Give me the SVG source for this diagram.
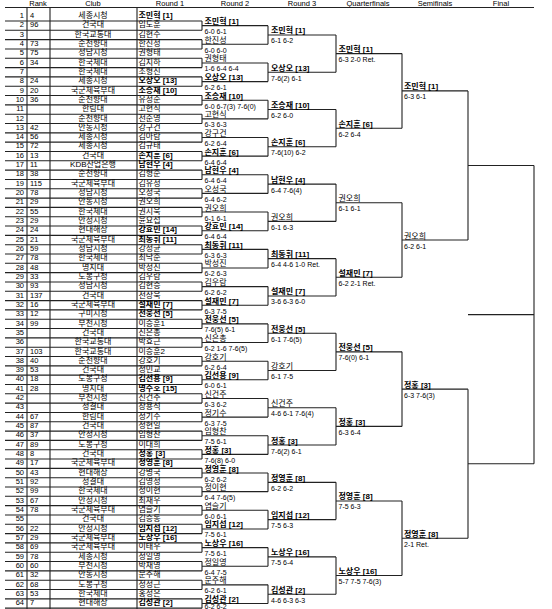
<svg xmlns="http://www.w3.org/2000/svg" width="552" height="609" viewBox="0 0 552 609">
<style>
text{font-family:"Liberation Sans","Noto Sans CJK KR",sans-serif;font-size:8px;fill:#000}
.h{font-size:7.5px;text-anchor:middle}
.n{font-size:7.5px;text-anchor:end}
.k{font-size:7.5px}
.c{text-anchor:middle}
.b{font-weight:bold}
.s{font-size:7px}
.ln{fill:none;stroke:#222;stroke-width:1.1}
</style>
<rect width="552" height="609" fill="#fff"/>
<g id="header">
<text class="h" x="38" y="6">Rank</text>
<text class="h" x="93" y="6">Club</text>
<text class="h" x="170" y="6">Round 1</text>
<text class="h" x="235" y="6">Round 2</text>
<text class="h" x="302" y="6">Round 3</text>
<text class="h" x="368" y="6">Quarterfinals</text>
<text class="h" x="435" y="6">Semifinals</text>
<text class="h" x="501" y="6">Final</text>
</g>
<g id="connectors" class="ln">
<path d="M5 7.5H534M27 7.5V609M50 7.5V609M137 7.5V609"/>
<path d="M5 21h197m-197 9.32h197m-197 9.32h197m-197 9.32h197m-197 9.32h197m-197 9.32h197m-197 9.32h197m-197 9.32h197m-197 9.32h197m-197 9.32h197
m-197 9.32h197m-197 9.32h197m-197 9.32h197m-197 9.32h197m-197 9.32h197m-197 9.32h197m-197 9.32h197m-197 9.32h197m-197 9.32h197
m-197 9.32h197m-197 9.32h197m-197 9.32h197m-197 9.32h197m-197 9.32h197m-197 9.32h197m-197 9.32h197m-197 9.32h197m-197 9.32h197
m-197 9.32h197m-197 9.32h197m-197 9.32h197m-197 9.32h197m-197 9.32h197m-197 9.32h197m-197 9.32h197m-197 9.32h197m-197 9.32h197
m-197 9.32h197m-197 9.32h197m-197 9.32h197m-197 9.32h197m-197 9.32h197m-197 9.32h197m-197 9.32h197m-197 9.32h197m-197 9.32h197
m-197 9.32h197m-197 9.32h197m-197 9.32h197m-197 9.32h197m-197 9.32h197m-197 9.32h197m-197 9.32h197m-197 9.32h197m-197 9.32h197
m-197 9.32h197m-197 9.32h197m-197 9.32h197m-197 9.32h197m-197 9.32h197m-197 9.32h197m-197 9.32h197m-197 9.32h197m-197 9.32h197"/>
<path d="M202 21v9.32m0 9.32v9.32m0 9.32v9.32m0 9.32v9.32m0 9.32v9.32m0 9.32v9.32m0 9.32v9.32m0 9.32v9.32
m0 9.32v9.32m0 9.32v9.32m0 9.32v9.32m0 9.32v9.32m0 9.32v9.32m0 9.32v9.32m0 9.32v9.32m0 9.32v9.32
m0 9.32v9.32m0 9.32v9.32m0 9.32v9.32m0 9.32v9.32m0 9.32v9.32m0 9.32v9.32m0 9.32v9.32m0 9.32v9.32
m0 9.32v9.32m0 9.32v9.32m0 9.32v9.32m0 9.32v9.32m0 9.32v9.32m0 9.32v9.32m0 9.32v9.32m0 9.32v9.32"/>
<path d="M202 25.66h66m-66 18.64h66m-66 18.64h66m-66 18.64h66m-66 18.64h66m-66 18.64h66m-66 18.64h66m-66 18.64h66
m-66 18.64h66m-66 18.64h66m-66 18.64h66m-66 18.64h66m-66 18.64h66m-66 18.64h66m-66 18.64h66m-66 18.64h66
m-66 18.64h66m-66 18.64h66m-66 18.64h66m-66 18.64h66m-66 18.64h66m-66 18.64h66m-66 18.64h66m-66 18.64h66
m-66 18.64h66m-66 18.64h66m-66 18.64h66m-66 18.64h66m-66 18.64h66m-66 18.64h66m-66 18.64h66m-66 18.64h66"/>
<path d="M268 25.66v18.64m0 18.64v18.64m0 18.64v18.64m0 18.64v18.64m0 18.64v18.64m0 18.64v18.64m0 18.64v18.64m0 18.64v18.64
m0 18.64v18.64m0 18.64v18.64m0 18.64v18.64m0 18.64v18.64m0 18.64v18.64m0 18.64v18.64m0 18.64v18.64m0 18.64v18.64"/>
<path d="M268 34.98h68m-68 37.28h68m-68 37.28h68m-68 37.28h68m-68 37.28h68m-68 37.28h68m-68 37.28h68m-68 37.28h68
m-68 37.28h68m-68 37.28h68m-68 37.28h68m-68 37.28h68m-68 37.28h68m-68 37.28h68m-68 37.28h68m-68 37.28h68"/>
<path d="M336 34.98v37.28m0 37.28v37.28m0 37.28v37.28m0 37.28v37.28m0 37.28v37.28m0 37.28v37.28m0 37.28v37.28m0 37.28v37.28"/>
<path d="M336 53.62h66m-66 74.56h66m-66 74.56h66m-66 74.56h66m-66 74.56h66m-66 74.56h66m-66 74.56h66m-66 74.56h66"/>
<path d="M402 53.62v74.56m0 74.56v74.56m0 74.56v74.56m0 74.56v74.56"/>
<path d="M402 90.9h66m-66 149.12h66m-66 149.12h66m-66 149.12h66"/>
<path d="M468 90.9v149.12m0 149.12v149.12"/>
<path d="M468 165.46h66M468 463.7h66M534 165.46V463.7M468 314.58h66"/>
</g>
<g id="round1">
<g id="p1" transform="translate(0,21)"><text class="n" x="24" y="-3">1</text><text class="k" x="30" y="-3">4</text><text class="c" x="93" y="-3">세종시청</text><text class="b" x="138.5" y="-3">조민혁 [1]</text></g>
<g id="p2" transform="translate(0,30.32)"><text class="n" x="24" y="-3">2</text><text class="k" x="30" y="-3">96</text><text class="c" x="93" y="-3">건국대</text><text x="138.5" y="-3">임도훈</text></g>
<g id="p3" transform="translate(0,39.64)"><text class="n" x="24" y="-3">3</text><text class="c" x="93" y="-3">한국교통대</text><text x="138.5" y="-3">김현수</text></g>
<g id="p4" transform="translate(0,48.96)"><text class="n" x="24" y="-3">4</text><text class="k" x="30" y="-3">73</text><text class="c" x="93" y="-3">순천향대</text><text x="138.5" y="-3">한진성</text></g>
<g id="p5" transform="translate(0,58.28)"><text class="n" x="24" y="-3">5</text><text class="k" x="30" y="-3">75</text><text class="c" x="93" y="-3">성남시청</text><text x="138.5" y="-3">권형태</text></g>
<g id="p6" transform="translate(0,67.6)"><text class="n" x="24" y="-3">6</text><text class="k" x="30" y="-3">34</text><text class="c" x="93" y="-3">한국체대</text><text x="138.5" y="-3">김지하</text></g>
<g id="p7" transform="translate(0,76.92)"><text class="n" x="24" y="-3">7</text><text class="c" x="93" y="-3">한국체대</text><text x="138.5" y="-3">조형진</text></g>
<g id="p8" transform="translate(0,86.24)"><text class="n" x="24" y="-3">8</text><text class="k" x="30" y="-3">24</text><text class="c" x="93" y="-3">세종시청</text><text class="b" x="138.5" y="-3">오상오 [13]</text></g>
<g id="p9" transform="translate(0,95.56)"><text class="n" x="24" y="-3">9</text><text class="k" x="30" y="-3">20</text><text class="c" x="93" y="-3">국군체육부대</text><text class="b" x="138.5" y="-3">조승재 [10]</text></g>
<g id="p10" transform="translate(0,104.88)"><text class="n" x="24" y="-3">10</text><text class="k" x="30" y="-3">36</text><text class="c" x="93" y="-3">순천향대</text><text x="138.5" y="-3">유성준</text></g>
<g id="p11" transform="translate(0,114.2)"><text class="n" x="24" y="-3">11</text><text class="c" x="93" y="-3">한림대</text><text x="138.5" y="-3">고현식</text></g>
<g id="p12" transform="translate(0,123.52)"><text class="n" x="24" y="-3">12</text><text class="c" x="93" y="-3">순천향대</text><text x="138.5" y="-3">전준영</text></g>
<g id="p13" transform="translate(0,132.84)"><text class="n" x="24" y="-3">13</text><text class="k" x="30" y="-3">42</text><text class="c" x="93" y="-3">안동시청</text><text x="138.5" y="-3">강구건</text></g>
<g id="p14" transform="translate(0,142.16)"><text class="n" x="24" y="-3">14</text><text class="k" x="30" y="-3">56</text><text class="c" x="93" y="-3">세종시청</text><text x="138.5" y="-3">김아람</text></g>
<g id="p15" transform="translate(0,151.48)"><text class="n" x="24" y="-3">15</text><text class="k" x="30" y="-3">72</text><text class="c" x="93" y="-3">세종시청</text><text x="138.5" y="-3">김규태</text></g>
<g id="p16" transform="translate(0,160.8)"><text class="n" x="24" y="-3">16</text><text class="k" x="30" y="-3">13</text><text class="c" x="93" y="-3">건국대</text><text class="b" x="138.5" y="-3">손지훈 [6]</text></g>
<g id="p17" transform="translate(0,170.12)"><text class="n" x="24" y="-3">17</text><text class="k" x="30" y="-3">11</text><text class="c" x="93" y="-3">KDB산업은행</text><text class="b" x="138.5" y="-3">남현우 [4]</text></g>
<g id="p18" transform="translate(0,179.44)"><text class="n" x="24" y="-3">18</text><text class="k" x="30" y="-3">38</text><text class="c" x="93" y="-3">순천향대</text><text x="138.5" y="-3">김형준</text></g>
<g id="p19" transform="translate(0,188.76)"><text class="n" x="24" y="-3">19</text><text class="k" x="30" y="-3">115</text><text class="c" x="93" y="-3">국군체육부대</text><text x="138.5" y="-3">김유성</text></g>
<g id="p20" transform="translate(0,198.08)"><text class="n" x="24" y="-3">20</text><text class="k" x="30" y="-3">78</text><text class="c" x="93" y="-3">성남시청</text><text x="138.5" y="-3">오성국</text></g>
<g id="p21" transform="translate(0,207.4)"><text class="n" x="24" y="-3">21</text><text class="k" x="30" y="-3">29</text><text class="c" x="93" y="-3">안동시청</text><text x="138.5" y="-3">권오희</text></g>
<g id="p22" transform="translate(0,216.72)"><text class="n" x="24" y="-3">22</text><text class="k" x="30" y="-3">55</text><text class="c" x="93" y="-3">한국체대</text><text x="138.5" y="-3">권시욱</text></g>
<g id="p23" transform="translate(0,226.04)"><text class="n" x="24" y="-3">23</text><text class="k" x="30" y="-3">29</text><text class="c" x="93" y="-3">안성시청</text><text x="138.5" y="-3">윤요섭</text></g>
<g id="p24" transform="translate(0,235.36)"><text class="n" x="24" y="-3">24</text><text class="k" x="30" y="-3">24</text><text class="c" x="93" y="-3">현대해상</text><text class="b" x="138.5" y="-3">강효민 [14]</text></g>
<g id="p25" transform="translate(0,244.68)"><text class="n" x="24" y="-3">25</text><text class="k" x="30" y="-3">21</text><text class="c" x="93" y="-3">국군체육부대</text><text class="b" x="138.5" y="-3">최동휘 [11]</text></g>
<g id="p26" transform="translate(0,254)"><text class="n" x="24" y="-3">26</text><text class="k" x="30" y="-3">59</text><text class="c" x="93" y="-3">성남시청</text><text x="138.5" y="-3">강성균</text></g>
<g id="p27" transform="translate(0,263.32)"><text class="n" x="24" y="-3">27</text><text class="k" x="30" y="-3">78</text><text class="c" x="93" y="-3">한국체대</text><text x="138.5" y="-3">최낙준</text></g>
<g id="p28" transform="translate(0,272.64)"><text class="n" x="24" y="-3">28</text><text class="k" x="30" y="-3">48</text><text class="c" x="93" y="-3">명지대</text><text x="138.5" y="-3">박성진</text></g>
<g id="p29" transform="translate(0,281.96)"><text class="n" x="24" y="-3">29</text><text class="k" x="30" y="-3">33</text><text class="c" x="93" y="-3">도봉구청</text><text x="138.5" y="-3">김우람</text></g>
<g id="p30" transform="translate(0,291.28)"><text class="n" x="24" y="-3">30</text><text class="k" x="30" y="-3">93</text><text class="c" x="93" y="-3">성남시청</text><text x="138.5" y="-3">김현승</text></g>
<g id="p31" transform="translate(0,300.6)"><text class="n" x="24" y="-3">31</text><text class="k" x="30" y="-3">137</text><text class="c" x="93" y="-3">건국대</text><text x="138.5" y="-3">전상욱</text></g>
<g id="p32" transform="translate(0,309.92)"><text class="n" x="24" y="-3">32</text><text class="k" x="30" y="-3">16</text><text class="c" x="93" y="-3">국군체육부대</text><text class="b" x="138.5" y="-3">설재민 [7]</text></g>
<g id="p33" transform="translate(0,319.24)"><text class="n" x="24" y="-3">33</text><text class="k" x="30" y="-3">12</text><text class="c" x="93" y="-3">구미시청</text><text class="b" x="138.5" y="-3">전웅선 [5]</text></g>
<g id="p34" transform="translate(0,328.56)"><text class="n" x="24" y="-3">34</text><text class="k" x="30" y="-3">99</text><text class="c" x="93" y="-3">부천시청</text><text x="138.5" y="-3">이승훈1</text></g>
<g id="p35" transform="translate(0,337.88)"><text class="n" x="24" y="-3">35</text><text class="c" x="93" y="-3">건국대</text><text x="138.5" y="-3">신은총</text></g>
<g id="p36" transform="translate(0,347.2)"><text class="n" x="24" y="-3">36</text><text class="c" x="93" y="-3">한국교통대</text><text x="138.5" y="-3">박효근</text></g>
<g id="p37" transform="translate(0,356.52)"><text class="n" x="24" y="-3">37</text><text class="k" x="30" y="-3">103</text><text class="c" x="93" y="-3">한국교통대</text><text x="138.5" y="-3">이승훈2</text></g>
<g id="p38" transform="translate(0,365.84)"><text class="n" x="24" y="-3">38</text><text class="k" x="30" y="-3">40</text><text class="c" x="93" y="-3">순천향대</text><text x="138.5" y="-3">강호기</text></g>
<g id="p39" transform="translate(0,375.16)"><text class="n" x="24" y="-3">39</text><text class="k" x="30" y="-3">53</text><text class="c" x="93" y="-3">건국대</text><text x="138.5" y="-3">정민교</text></g>
<g id="p40" transform="translate(0,384.48)"><text class="n" x="24" y="-3">40</text><text class="k" x="30" y="-3">18</text><text class="c" x="93" y="-3">도봉구청</text><text class="b" x="138.5" y="-3">김선용 [9]</text></g>
<g id="p41" transform="translate(0,393.8)"><text class="n" x="24" y="-3">41</text><text class="k" x="30" y="-3">28</text><text class="c" x="93" y="-3">명지대</text><text class="b" x="138.5" y="-3">명주호 [15]</text></g>
<g id="p42" transform="translate(0,403.12)"><text class="n" x="24" y="-3">42</text><text class="c" x="93" y="-3">부천시청</text><text x="138.5" y="-3">신건주</text></g>
<g id="p43" transform="translate(0,412.44)"><text class="n" x="24" y="-3">43</text><text class="c" x="93" y="-3">성결대</text><text x="138.5" y="-3">장용석</text></g>
<g id="p44" transform="translate(0,421.76)"><text class="n" x="24" y="-3">44</text><text class="k" x="30" y="-3">67</text><text class="c" x="93" y="-3">한림대</text><text x="138.5" y="-3">정기수</text></g>
<g id="p45" transform="translate(0,431.08)"><text class="n" x="24" y="-3">45</text><text class="k" x="30" y="-3">87</text><text class="c" x="93" y="-3">건국대</text><text x="138.5" y="-3">정현일</text></g>
<g id="p46" transform="translate(0,440.4)"><text class="n" x="24" y="-3">46</text><text class="k" x="30" y="-3">37</text><text class="c" x="93" y="-3">안성시청</text><text x="138.5" y="-3">임형찬</text></g>
<g id="p47" transform="translate(0,449.72)"><text class="n" x="24" y="-3">47</text><text class="k" x="30" y="-3">89</text><text class="c" x="93" y="-3">도봉구청</text><text x="138.5" y="-3">이대희</text></g>
<g id="p48" transform="translate(0,459.04)"><text class="n" x="24" y="-3">48</text><text class="k" x="30" y="-3">8</text><text class="c" x="93" y="-3">건국대</text><text class="b" x="138.5" y="-3">정홍 [3]</text></g>
<g id="p49" transform="translate(0,468.36)"><text class="n" x="24" y="-3">49</text><text class="k" x="30" y="-3">17</text><text class="c" x="93" y="-3">국군체육부대</text><text class="b" x="138.5" y="-3">정영훈 [8]</text></g>
<g id="p50" transform="translate(0,477.68)"><text class="n" x="24" y="-3">50</text><text class="k" x="30" y="-3">43</text><text class="c" x="93" y="-3">현대해상</text><text x="138.5" y="-3">강병국</text></g>
<g id="p51" transform="translate(0,487)"><text class="n" x="24" y="-3">51</text><text class="k" x="30" y="-3">92</text><text class="c" x="93" y="-3">성결대</text><text x="138.5" y="-3">김영성</text></g>
<g id="p52" transform="translate(0,496.32)"><text class="n" x="24" y="-3">52</text><text class="k" x="30" y="-3">99</text><text class="c" x="93" y="-3">한국체대</text><text x="138.5" y="-3">정이현</text></g>
<g id="p53" transform="translate(0,505.64)"><text class="n" x="24" y="-3">53</text><text class="k" x="30" y="-3">67</text><text class="c" x="93" y="-3">안성시청</text><text x="138.5" y="-3">최재우</text></g>
<g id="p54" transform="translate(0,514.96)"><text class="n" x="24" y="-3">54</text><text class="k" x="30" y="-3">78</text><text class="c" x="93" y="-3">국군체육부대</text><text x="138.5" y="-3">염슬기</text></g>
<g id="p55" transform="translate(0,524.28)"><text class="n" x="24" y="-3">55</text><text class="c" x="93" y="-3">건국대</text><text x="138.5" y="-3">김승동</text></g>
<g id="p56" transform="translate(0,533.6)"><text class="n" x="24" y="-3">56</text><text class="k" x="30" y="-3">22</text><text class="c" x="93" y="-3">안성시청</text><text class="b" x="138.5" y="-3">임지섭 [12]</text></g>
<g id="p57" transform="translate(0,542.92)"><text class="n" x="24" y="-3">57</text><text class="k" x="30" y="-3">29</text><text class="c" x="93" y="-3">국군체육부대</text><text class="b" x="138.5" y="-3">노상우 [16]</text></g>
<g id="p58" transform="translate(0,552.24)"><text class="n" x="24" y="-3">58</text><text class="k" x="30" y="-3">69</text><text class="c" x="93" y="-3">국군체육부대</text><text x="138.5" y="-3">이태우</text></g>
<g id="p59" transform="translate(0,561.56)"><text class="n" x="24" y="-3">59</text><text class="k" x="30" y="-3">78</text><text class="c" x="93" y="-3">세종시청</text><text x="138.5" y="-3">정일영</text></g>
<g id="p60" transform="translate(0,570.88)"><text class="n" x="24" y="-3">60</text><text class="k" x="30" y="-3">60</text><text class="c" x="93" y="-3">부천시청</text><text x="138.5" y="-3">박재영</text></g>
<g id="p61" transform="translate(0,580.2)"><text class="n" x="24" y="-3">61</text><text class="k" x="30" y="-3">32</text><text class="c" x="93" y="-3">안동시청</text><text x="138.5" y="-3">문주해</text></g>
<g id="p62" transform="translate(0,589.52)"><text class="n" x="24" y="-3">62</text><text class="k" x="30" y="-3">68</text><text class="c" x="93" y="-3">도봉구청</text><text x="138.5" y="-3">정성근</text></g>
<g id="p63" transform="translate(0,598.84)"><text class="n" x="24" y="-3">63</text><text class="k" x="30" y="-3">53</text><text class="c" x="93" y="-3">한국체대</text><text x="138.5" y="-3">홍성은</text></g>
<g id="p64" transform="translate(0,608.16)"><text class="n" x="24" y="-3">64</text><text class="k" x="30" y="-3">7</text><text class="c" x="93" y="-3">현대해상</text><text class="b" x="138.5" y="-3">김성관 [2]</text></g>
</g>
<g id="round2">
<g id="r2-1" transform="translate(204.5,25.66)"><text y="-1.5" class="b">조민혁 [1]</text><text y="8.5" class="s">6-0 6-1</text></g>
<g id="r2-2" transform="translate(204.5,44.3)"><text y="-1.5">한진성</text><text y="8.5" class="s">6-0 6-0</text></g>
<g id="r2-3" transform="translate(204.5,62.94)"><text y="-1.5">권형태</text><text y="8.5" class="s">1-6 6-4 6-4</text></g>
<g id="r2-4" transform="translate(204.5,81.58)"><text y="-1.5" class="b">오상오 [13]</text><text y="8.5" class="s">6-2 6-1</text></g>
<g id="r2-5" transform="translate(204.5,100.22)"><text y="-1.5" class="b">조승재 [10]</text><text y="8.5" class="s">6-0 6-7(3) 7-6(0)</text></g>
<g id="r2-6" transform="translate(204.5,118.86)"><text y="-1.5">고현식</text><text y="8.5" class="s">6-3 6-3</text></g>
<g id="r2-7" transform="translate(204.5,137.5)"><text y="-1.5">강구건</text><text y="8.5" class="s">6-2 6-4</text></g>
<g id="r2-8" transform="translate(204.5,156.14)"><text y="-1.5" class="b">손지훈 [6]</text><text y="8.5" class="s">6-4 6-4</text></g>
<g id="r2-9" transform="translate(204.5,174.78)"><text y="-1.5" class="b">남현우 [4]</text><text y="8.5" class="s">6-4 6-4</text></g>
<g id="r2-10" transform="translate(204.5,193.42)"><text y="-1.5">오성국</text><text y="8.5" class="s">6-4 6-2</text></g>
<g id="r2-11" transform="translate(204.5,212.06)"><text y="-1.5">권오희</text><text y="8.5" class="s">6-1 6-1</text></g>
<g id="r2-12" transform="translate(204.5,230.7)"><text y="-1.5" class="b">강효민 [14]</text><text y="8.5" class="s">6-4 6-4</text></g>
<g id="r2-13" transform="translate(204.5,249.34)"><text y="-1.5" class="b">최동휘 [11]</text><text y="8.5" class="s">6-3 6-3</text></g>
<g id="r2-14" transform="translate(204.5,267.98)"><text y="-1.5">박성진</text><text y="8.5" class="s">6-2 6-3</text></g>
<g id="r2-15" transform="translate(204.5,286.62)"><text y="-1.5">김우람</text><text y="8.5" class="s">6-2 6-2</text></g>
<g id="r2-16" transform="translate(204.5,305.26)"><text y="-1.5" class="b">설재민 [7]</text><text y="8.5" class="s">6-3 7-5</text></g>
<g id="r2-17" transform="translate(204.5,323.9)"><text y="-1.5" class="b">전웅선 [5]</text><text y="8.5" class="s">7-6(5) 6-1</text></g>
<g id="r2-18" transform="translate(204.5,342.54)"><text y="-1.5">신은총</text><text y="8.5" class="s">6-2 1-6 7-6(5)</text></g>
<g id="r2-19" transform="translate(204.5,361.18)"><text y="-1.5">강호기</text><text y="8.5" class="s">6-2 6-4</text></g>
<g id="r2-20" transform="translate(204.5,379.82)"><text y="-1.5" class="b">김선용 [9]</text><text y="8.5" class="s">6-0 6-1</text></g>
<g id="r2-21" transform="translate(204.5,398.46)"><text y="-1.5">신건주</text><text y="8.5" class="s">6-3 6-2</text></g>
<g id="r2-22" transform="translate(204.5,417.1)"><text y="-1.5">정기수</text><text y="8.5" class="s">6-3 7-5</text></g>
<g id="r2-23" transform="translate(204.5,435.74)"><text y="-1.5">임형찬</text><text y="8.5" class="s">7-5 6-1</text></g>
<g id="r2-24" transform="translate(204.5,454.38)"><text y="-1.5" class="b">정홍 [3]</text><text y="8.5" class="s">7-6(8) 6-0</text></g>
<g id="r2-25" transform="translate(204.5,473.02)"><text y="-1.5" class="b">정영훈 [8]</text><text y="8.5" class="s">6-2 6-2</text></g>
<g id="r2-26" transform="translate(204.5,491.66)"><text y="-1.5">정이현</text><text y="8.5" class="s">6-4 7-6(5)</text></g>
<g id="r2-27" transform="translate(204.5,510.3)"><text y="-1.5">염슬기</text><text y="8.5" class="s">6-0 6-1</text></g>
<g id="r2-28" transform="translate(204.5,528.94)"><text y="-1.5" class="b">임지섭 [12]</text><text y="8.5" class="s">7-5 6-1</text></g>
<g id="r2-29" transform="translate(204.5,547.58)"><text y="-1.5" class="b">노상우 [16]</text><text y="8.5" class="s">7-5 6-1</text></g>
<g id="r2-30" transform="translate(204.5,566.22)"><text y="-1.5">정일영</text><text y="8.5" class="s">6-4 7-5</text></g>
<g id="r2-31" transform="translate(204.5,584.86)"><text y="-1.5">문주해</text><text y="8.5" class="s">6-2 6-1</text></g>
<g id="r2-32" transform="translate(204.5,603.5)"><text y="-1.5" class="b">김성관 [2]</text><text y="5.2" class="s">6-2 6-2</text></g>
</g>
<g id="round3">
<g id="r3-1" transform="translate(271,34.98)"><text y="-1.5" class="b">조민혁 [1]</text><text y="8.5" class="s">6-1 6-2</text></g>
<g id="r3-2" transform="translate(271,72.26)"><text y="-1.5" class="b">오상오 [13]</text><text y="8.5" class="s">7-6(2) 6-1</text></g>
<g id="r3-3" transform="translate(271,109.54)"><text y="-1.5" class="b">조승재 [10]</text><text y="8.5" class="s">6-2 6-0</text></g>
<g id="r3-4" transform="translate(271,146.82)"><text y="-1.5" class="b">손지훈 [6]</text><text y="8.5" class="s">7-6(10) 6-2</text></g>
<g id="r3-5" transform="translate(271,184.1)"><text y="-1.5" class="b">남현우 [4]</text><text y="8.5" class="s">6-4 7-6(4)</text></g>
<g id="r3-6" transform="translate(271,221.38)"><text y="-1.5">권오희</text><text y="8.5" class="s">6-1 6-3</text></g>
<g id="r3-7" transform="translate(271,258.66)"><text y="-1.5" class="b">최동휘 [11]</text><text y="8.5" class="s">6-4 4-6 1-0 Ret.</text></g>
<g id="r3-8" transform="translate(271,295.94)"><text y="-1.5" class="b">설재민 [7]</text><text y="8.5" class="s">3-6 6-3 6-0</text></g>
<g id="r3-9" transform="translate(271,333.22)"><text y="-1.5" class="b">전웅선 [5]</text><text y="8.5" class="s">6-1 7-6(5)</text></g>
<g id="r3-10" transform="translate(271,370.5)"><text y="-1.5">강호기</text><text y="8.5" class="s">6-1 7-5</text></g>
<g id="r3-11" transform="translate(271,407.78)"><text y="-1.5">신건주</text><text y="8.5" class="s">4-6 6-1 7-6(4)</text></g>
<g id="r3-12" transform="translate(271,445.06)"><text y="-1.5" class="b">정홍 [3]</text><text y="8.5" class="s">7-6(2) 6-1</text></g>
<g id="r3-13" transform="translate(271,482.34)"><text y="-1.5" class="b">정영훈 [8]</text><text y="8.5" class="s">6-2 6-2</text></g>
<g id="r3-14" transform="translate(271,519.62)"><text y="-1.5" class="b">임지섭 [12]</text><text y="8.5" class="s">7-5 6-3</text></g>
<g id="r3-15" transform="translate(271,556.9)"><text y="-1.5" class="b">노상우 [16]</text><text y="8.5" class="s">7-5 6-4</text></g>
<g id="r3-16" transform="translate(271,594.18)"><text y="-1.5" class="b">김성관 [2]</text><text y="8.5" class="s">4-6 6-3 6-3</text></g>
</g>
<g id="quarterfinals">
<g id="qf-1" transform="translate(338.5,53.62)"><text y="-1.5" class="b">조민혁 [1]</text><text y="8.5" class="s">6-3 2-0 Ret.</text></g>
<g id="qf-2" transform="translate(338.5,128.18)"><text y="-1.5" class="b">손지훈 [6]</text><text y="8.5" class="s">6-2 6-4</text></g>
<g id="qf-3" transform="translate(338.5,202.74)"><text y="-1.5">권오희</text><text y="8.5" class="s">6-1 6-1</text></g>
<g id="qf-4" transform="translate(338.5,277.3)"><text y="-1.5" class="b">설재민 [7]</text><text y="8.5" class="s">6-2 2-1 Ret.</text></g>
<g id="qf-5" transform="translate(338.5,351.86)"><text y="-1.5" class="b">전웅선 [5]</text><text y="8.5" class="s">7-6(0) 6-1</text></g>
<g id="qf-6" transform="translate(338.5,426.42)"><text y="-1.5" class="b">정홍 [3]</text><text y="8.5" class="s">6-3 6-4</text></g>
<g id="qf-7" transform="translate(338.5,500.98)"><text y="-1.5" class="b">정영훈 [8]</text><text y="8.5" class="s">7-5 6-3</text></g>
<g id="qf-8" transform="translate(338.5,575.54)"><text y="-1.5" class="b">노상우 [16]</text><text y="8.5" class="s">5-7 7-5 7-6(3)</text></g>
</g>
<g id="semifinals">
<g id="sf-1" transform="translate(404,90.9)"><text y="-1.5" class="b">조민혁 [1]</text><text y="8.5" class="s">6-3 6-1</text></g>
<g id="sf-2" transform="translate(404,240.02)"><text y="-1.5">권오희</text><text y="8.5" class="s">6-2 6-1</text></g>
<g id="sf-3" transform="translate(404,389.14)"><text y="-1.5" class="b">정홍 [3]</text><text y="8.5" class="s">6-3 7-6(3)</text></g>
<g id="sf-4" transform="translate(404,538.26)"><text y="-1.5" class="b">정영훈 [8]</text><text y="8.5" class="s">2-1 Ret.</text></g>
</g>
</svg>
